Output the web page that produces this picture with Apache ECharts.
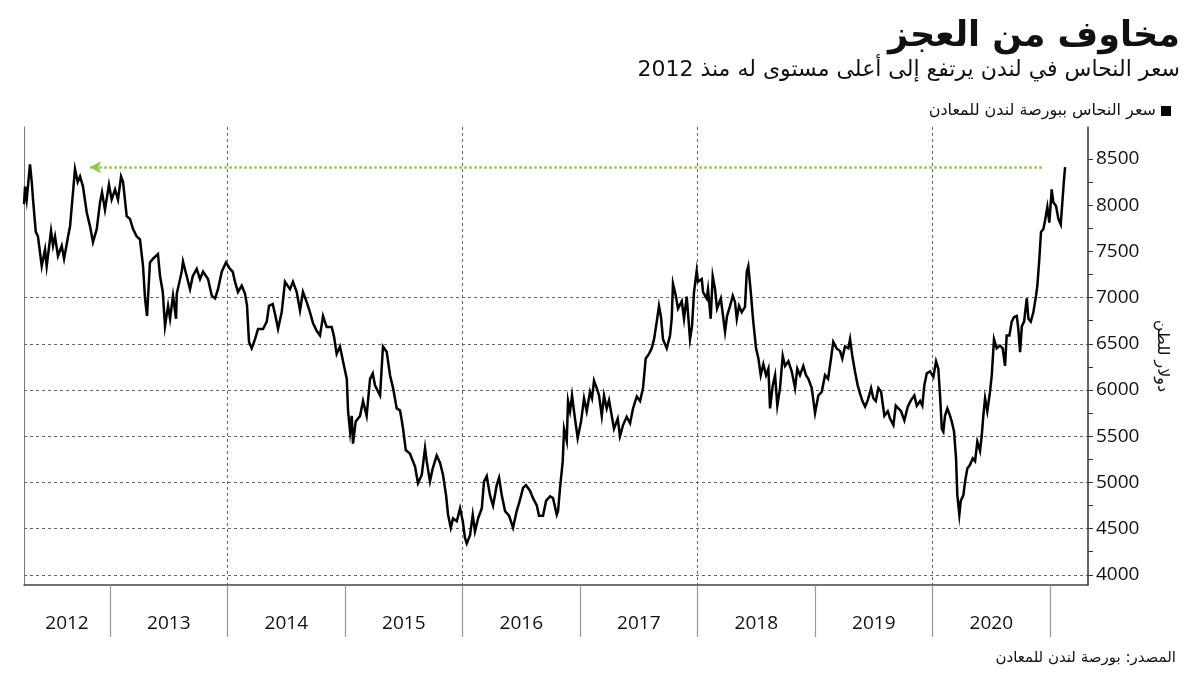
<!DOCTYPE html>
<html><head><meta charset="utf-8">
<script src="https://cdn.jsdelivr.net/npm/echarts@6.0.0/dist/echarts.min.js"></script>
<style>html,body{margin:0;padding:0;background:#fff}#c{width:1200px;height:675px}</style>
</head><body><div id="c"></div>
<script>
const titleText = 'مخاوف من العجز';
const subtitleText = 'سعر النحاس في لندن يرتفع إلى أعلى مستوى له منذ 2012';
const seriesName = 'سعر النحاس ببورصة لندن للمعادن';
const yAxisName = 'دولار للطن';
const sourceText = 'المصدر: بورصة لندن للمعادن';

const yearLabels = ['2012','2013','2014','2015','2016','2017','2018','2019','2020'];
const yearTicks = [2013,2014,2015,2016,2017,2018,2019,2020,2021];
const gridYears = [2014,2016,2018,2020];
const yTicks = [4000,4500,5000,5500,6000,6500,7000,7500,8000,8500];
const yMinorTicks = [4250,4750,5250,5750,6250,6750,7250,7750,8250];
const gridValues = [4000,4500,5000,5500,6000,6500,7000];
const xMin = 2012.268, xMax = 2021.323;
const yMin = 3890, yMax = 8845;
const highLevel = 8410;
const arrowFrom = 2020.93, arrowTo = 2012.83;

// decimal-year dates and LME copper price (USD/tonne)
const dates = [
2012.268,2012.277,2012.291,2012.319,2012.334,2012.345,2012.368,2012.387,2012.419,2012.447,
2012.461,2012.498,2012.515,2012.532,2012.557,2012.589,2012.609,2012.643,2012.660,2012.702,
2012.725,2012.745,2012.770,2012.802,2012.830,2012.855,2012.887,2012.915,2012.932,2012.957,
2012.991,2013.014,2013.043,2013.068,2013.094,2013.111,2013.142,2013.170,2013.196,2013.227,
2013.255,2013.281,2013.298,2013.315,2013.340,2013.366,2013.408,2013.426,2013.449,2013.468,
2013.494,2013.511,2013.536,2013.562,2013.568,2013.610,2013.621,2013.653,2013.681,2013.704,
2013.738,2013.766,2013.792,2013.834,2013.866,2013.894,2013.919,2013.951,2013.987,2014.021,
2014.044,2014.064,2014.089,2014.121,2014.149,2014.166,2014.183,2014.206,2014.234,2014.260,
2014.302,2014.334,2014.353,2014.385,2014.413,2014.430,2014.461,2014.489,2014.532,2014.557,
2014.589,2014.617,2014.642,2014.674,2014.702,2014.728,2014.759,2014.787,2014.813,2014.844,
2014.887,2014.906,2014.929,2014.957,2014.983,2015.015,2015.026,2015.043,2015.057,2015.068,
2015.091,2015.128,2015.153,2015.184,2015.213,2015.236,2015.255,2015.298,2015.323,2015.355,
2015.383,2015.409,2015.440,2015.468,2015.483,2015.494,2015.517,2015.553,2015.596,2015.621,
2015.653,2015.681,2015.695,2015.723,2015.746,2015.780,2015.809,2015.834,2015.860,2015.877,
2015.900,2015.919,2015.951,2015.979,2016.002,2016.021,2016.036,2016.064,2016.087,2016.106,
2016.132,2016.164,2016.183,2016.206,2016.234,2016.260,2016.291,2016.311,2016.334,2016.362,
2016.396,2016.430,2016.461,2016.489,2016.515,2016.540,2016.574,2016.600,2016.632,2016.651,
2016.685,2016.711,2016.745,2016.770,2016.802,2016.813,2016.830,2016.853,2016.864,2016.887,
2016.898,2016.915,2016.932,2016.957,2016.980,2017.009,2017.034,2017.057,2017.085,2017.102,
2017.119,2017.142,2017.162,2017.185,2017.204,2017.227,2017.247,2017.270,2017.289,2017.321,
2017.340,2017.366,2017.397,2017.426,2017.451,2017.483,2017.511,2017.536,2017.559,2017.587,
2017.610,2017.630,2017.653,2017.672,2017.689,2017.706,2017.738,2017.766,2017.780,2017.791,
2017.815,2017.834,2017.866,2017.885,2017.908,2017.936,2017.953,2017.970,2017.993,2018.004,
2018.036,2018.047,2018.078,2018.089,2018.112,2018.129,2018.149,2018.166,2018.198,2018.217,
2018.234,2018.251,2018.277,2018.300,2018.319,2018.334,2018.353,2018.376,2018.404,2018.419,
2018.432,2018.453,2018.472,2018.498,2018.518,2018.538,2018.560,2018.583,2018.603,2018.617,
2018.640,2018.660,2018.679,2018.702,2018.725,2018.745,2018.773,2018.802,2018.830,2018.849,
2018.872,2018.900,2018.923,2018.943,2018.972,2019.000,2019.028,2019.057,2019.085,2019.111,
2019.136,2019.155,2019.184,2019.213,2019.232,2019.255,2019.283,2019.298,2019.317,2019.340,
2019.363,2019.383,2019.403,2019.426,2019.449,2019.477,2019.496,2019.517,2019.539,2019.562,
2019.590,2019.619,2019.638,2019.667,2019.687,2019.709,2019.732,2019.760,2019.789,2019.817,
2019.845,2019.866,2019.894,2019.913,2019.930,2019.951,2019.979,2020.007,2020.030,2020.049,
2020.064,2020.079,2020.092,2020.106,2020.126,2020.149,2020.163,2020.183,2020.200,2020.211,
2020.228,2020.240,2020.262,2020.277,2020.296,2020.319,2020.342,2020.362,2020.381,2020.404,
2020.419,2020.432,2020.447,2020.466,2020.489,2020.504,2020.523,2020.546,2020.574,2020.597,
2020.617,2020.631,2020.654,2020.674,2020.694,2020.717,2020.730,2020.745,2020.760,2020.779,
2020.802,2020.816,2020.836,2020.858,2020.881,2020.892,2020.909,2020.923,2020.943,2020.957,
2020.977,2020.994,2021.014,2021.028,2021.051,2021.071,2021.091,2021.108,2021.119,2021.128
];
const prices = [
8010,8200,8060,8440,8250,8060,7710,7660,7340,7520,
7340,7720,7560,7660,7450,7560,7420,7660,7770,8390,
8250,8310,8200,7920,7770,7600,7740,8030,8140,7950,
8220,8060,8170,8060,8310,8250,7880,7850,7740,7660,
7630,7340,6990,6800,7380,7420,7470,7230,7060,6690,
6910,6770,7020,6770,7040,7280,7390,7230,7090,7230,
7310,7200,7280,7200,7020,6990,7090,7280,7380,7310,
7280,7170,7060,7130,7040,6910,6520,6450,6550,6660,
6660,6740,6910,6930,6770,6660,6840,7170,7090,7170,
7060,6860,7060,6950,6840,6720,6640,6590,6800,6680,
6680,6580,6390,6470,6310,6120,5770,5550,5720,5420,
5660,5720,5880,5720,6120,6180,6050,5940,6470,6410,
6160,6020,5800,5780,5670,5580,5350,5310,5170,4990,
5080,5370,5230,5010,5150,5290,5210,5080,4860,4650,
4510,4610,4580,4720,4580,4400,4340,4430,4650,4470,
4610,4720,5010,5070,4860,4750,4970,5050,4860,4690,
4640,4510,4690,4810,4940,4970,4910,4830,4750,4640,
4640,4800,4850,4830,4650,4690,4940,5230,5580,5450,
5880,5770,5940,5690,5480,5660,5910,5770,5980,5910,
6100,6020,5940,5720,5940,5800,5890,5720,5580,5690,
5500,5620,5710,5640,5800,5930,5880,6020,6340,6390,
6450,6550,6740,6910,6790,6550,6450,6590,6770,7150,
7020,6880,6960,6770,7010,6550,6690,7060,7290,7170,
7200,7060,6990,7090,6770,7230,7090,6880,6990,6800,
6630,6800,6910,7020,6950,6770,6910,6840,6900,7280,
7340,7060,6770,6450,6340,6160,6280,6160,6230,5800,
6050,6160,5830,6020,6370,6260,6310,6200,6020,6230,
6160,6260,6160,6120,6020,5750,5940,5980,6160,6120,
6340,6520,6450,6420,6340,6470,6450,6550,6370,6200,
6050,5960,5880,5820,5890,6020,5910,5880,6020,5980,
5720,5770,5690,5620,5830,5800,5770,5670,5820,5890,
5940,5830,5880,5830,6050,6180,6200,6140,6310,6230,
5940,5580,5550,5720,5800,5720,5660,5550,5260,4860,
4650,4800,4860,5010,5150,5190,5260,5230,5440,5340,
5510,5720,5910,5770,5980,6160,6550,6450,6480,6450,
6260,6590,6590,6740,6790,6800,6660,6410,6690,6740,
6990,6770,6740,6840,7020,7130,7420,7710,7740,7830,
7980,7810,8170,8030,7990,7850,7790,8090,8280,8410
];

const labelPos = yearLabels.map(y => {
  const a = Math.max(xMin, +y), b = Math.min(xMax, +y + 1);
  return (a + b) / 2;
});
const arabicFont = '"DejaVu Sans", sans-serif';
const numFont = '"Open Sans", sans-serif';

const chart = echarts.init(document.getElementById('c'), null, {renderer: 'canvas'});
chart.setOption({
  animation: false,
  backgroundColor: '#fff',
  grid: {left: 24, right: 112, top: 127, bottom: 90, containLabel: false},
  legend: {
    data: [{name: seriesName, icon: 'rect'}],
    right: 24, top: 98, align: 'right',
    itemWidth: 10, itemHeight: 10,
    textStyle: {fontFamily: arabicFont, fontSize: 16, color: '#111'}
  },
  graphic: [
    {type: 'text', right: 20, top: 19,
     style: {text: titleText, font: 'bold 35px ' + arabicFont, fill: '#111'}},
    {type: 'text', right: 20, top: 59,
     style: {text: subtitleText, font: '22px ' + arabicFont, fill: '#111'}},
    {type: 'text', right: 24, top: 651,
     style: {text: sourceText, font: '15px ' + arabicFont, fill: '#111'}}
  ],
  xAxis: [
    {type: 'value', min: xMin, max: xMax, position: 'bottom',
     axisLine: {show: true, onZero: false, lineStyle: {color: '#444', width: 1.5}},
     axisTick: {show: true, customValues: yearTicks, length: 52, lineStyle: {color: '#999', width: 1.2}},
     axisLabel: {show: true, customValues: labelPos, margin: 29,
       formatter: v => yearLabels[labelPos.findIndex(p => Math.abs(p - v) < 1e-6)] || '',
       fontFamily: numFont, fontSize: 19, color: '#111'},
     splitLine: {show: false}},
    {type: 'value', min: xMin, max: xMax, position: 'bottom',
     axisLine: {show: false}, axisLabel: {show: false},
     axisTick: {show: false, customValues: gridYears},
     splitLine: {show: true, lineStyle: {color: '#666', type: [3, 3], width: 1}}}
  ],
  yAxis: [
    {type: 'value', min: yMin, max: yMax, position: 'right',
     axisLine: {show: true, onZero: false, lineStyle: {color: '#333', width: 1.5}},
     axisTick: {show: true, inside: false, customValues: yTicks.concat(yMinorTicks), length: 5, lineStyle: {color: '#333'}},
     axisLabel: {show: true, customValues: yTicks, formatter: v => String(v), margin: 8,
       fontFamily: numFont, fontSize: 19, color: '#111'},
     splitLine: {show: false},
     name: yAxisName, nameLocation: 'middle', nameRotate: -90, nameGap: 66,
     nameTextStyle: {fontFamily: arabicFont, fontSize: 16, color: '#111'}},
    {type: 'value', min: yMin, max: yMax, position: 'left',
     axisLine: {show: true, onZero: false, lineStyle: {color: '#777', width: 1}},
     axisTick: {show: false, customValues: gridValues},
     axisLabel: {show: false},
     splitLine: {show: true, lineStyle: {color: '#666', type: [3, 3], width: 1}}}
  ],
  series: [{
    name: seriesName, type: 'line', xAxisIndex: 0, yAxisIndex: 0,
    data: dates.map((d, i) => [d, prices[i]]),
    showSymbol: false, symbol: 'none',
    color: '#000',
    lineStyle: {color: '#000', width: 2.5, join: 'miter'},
    z: 5,
    markLine: {
      silent: true, animation: false,
      symbol: ['none', 'arrow'], symbolSize: [9, 11],
      label: {show: false},
      lineStyle: {color: '#8dc63f', type: 'dotted', width: 2.5},
      data: [[{coord: [arrowFrom, highLevel]}, {coord: [arrowTo, highLevel]}]]
    }
  }]
});
</script></body></html>
